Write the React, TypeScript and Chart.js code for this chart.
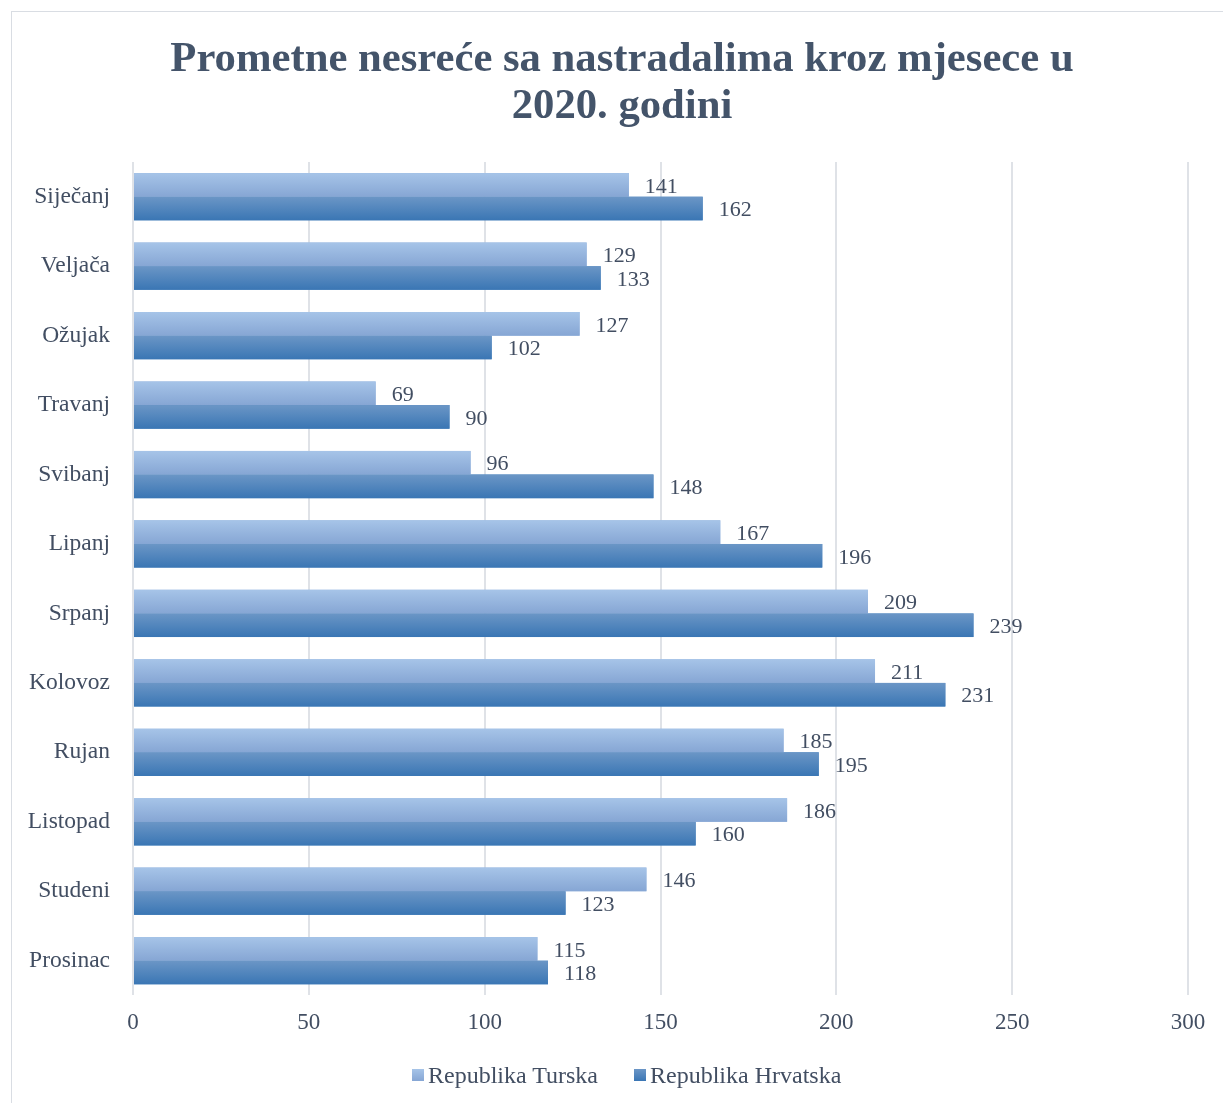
import React, { useEffect, useRef } from "react";
import { Chart, registerables } from "chart.js";

Chart.register(...registerables);

const TITLE_LINES = ["Prometne nesreće sa nastradalima kroz mjesece u", "2020. godini"];
const MONTHS = ["Siječanj", "Veljača", "Ožujak", "Travanj", "Svibanj", "Lipanj", "Srpanj", "Kolovoz", "Rujan", "Listopad", "Studeni", "Prosinac"];
const SERIES_NAMES = ["Republika Turska", "Republika Hrvatska"];
const TURSKA = [141, 129, 127, 69, 96, 167, 209, 211, 185, 186, 146, 115];
const HRVATSKA = [162, 133, 102, 90, 148, 196, 239, 231, 195, 160, 123, 118];
const X_MIN = 0;
const X_MAX = 300;
const X_STEP = 50;

const FONT = "'Liberation Serif', 'Times New Roman', serif";
const TEXT_COLOR = "#424e62";
const GRADS = [
  ["#a6c4e8", "#86a6d4"],
  ["#6b96c6", "#3a76b4"],
];
const SOLID = ["#95b4de", "#4a85bf"];

const barPlugin = {
  id: "gradBarsAndLabels",
  afterDatasetsDraw(chart: any) {
    const ctx = chart.ctx;
    ctx.save();
    chart.data.datasets.forEach((ds: any, di: number) => {
      const meta = chart.getDatasetMeta(di);
      meta.data.forEach((el: any) => {
        const top = el.y - el.height / 2;
        const bottom = el.y + el.height / 2;
        const g = ctx.createLinearGradient(0, top, 0, bottom);
        g.addColorStop(0, GRADS[di][0]);
        g.addColorStop(1, GRADS[di][1]);
        ctx.fillStyle = g;
        const left = Math.min(el.base, el.x);
        ctx.fillRect(left, top, Math.abs(el.x - el.base), el.height);
      });
    });
    ctx.font = `22px ${FONT}`;
    ctx.fillStyle = TEXT_COLOR;
    ctx.textAlign = "left";
    ctx.textBaseline = "middle";
    chart.data.datasets.forEach((ds: any, di: number) => {
      const meta = chart.getDatasetMeta(di);
      meta.data.forEach((el: any, i: number) => {
        ctx.fillText(String(ds.data[i]), el.x + 16, el.y + 2);
      });
    });
    ctx.restore();
  },
};

export default function App() {
  const ref = useRef<HTMLCanvasElement>(null);
  useEffect(() => {
    if (!ref.current) return;
    const chart = new Chart(ref.current, {
      type: "bar",
      data: {
        labels: MONTHS,
        datasets: [
          { label: SERIES_NAMES[0], data: TURSKA, backgroundColor: SOLID[0], borderWidth: 0 },
          { label: SERIES_NAMES[1], data: HRVATSKA, backgroundColor: SOLID[1], borderWidth: 0 },
        ],
      },
      plugins: [barPlugin],
      options: {
        indexAxis: "y",
        animation: false,
        responsive: true,
        maintainAspectRatio: false,
        datasets: { bar: { categoryPercentage: 0.68, barPercentage: 1.0 } },
        layout: { padding: { left: 0, right: 0, top: 0, bottom: 52 } },
        plugins: {
          tooltip: { enabled: false },
          legend: { display: false },
          title: {
            display: true,
            text: TITLE_LINES,
            color: "#44546a",
            font: { family: FONT, size: 42.7, weight: "bold", lineHeight: 47 / 42.7 },
            padding: { top: 24, bottom: 32 },
          },
        },
        scales: {
          x: {
            min: X_MIN,
            max: X_MAX,
            ticks: { stepSize: X_STEP, color: TEXT_COLOR, font: { family: FONT, size: 23 }, padding: 14 },
            grid: { color: "#dfe2e7", lineWidth: 2, drawTicks: false },
            border: { display: false },
          },
          y: {
            ticks: { color: TEXT_COLOR, font: { family: FONT, size: 23.5 }, padding: 23 },
            grid: { display: false, drawTicks: false },
            border: { display: false },
            afterFit(scale: any) {
              scale.width = 121;
            },
          },
          yRightSpace: {
            type: "category",
            labels: MONTHS,
            position: "right",
            ticks: { display: false },
            grid: { display: false, drawTicks: false },
            border: { display: false },
            afterFit(scale: any) {
              scale.width = 44;
            },
          },
        },
      },
    } as any);
    return () => chart.destroy();
  }, []);

  const swatch = (i: number) => ({
    display: "inline-block",
    width: 12,
    height: 12,
    background: `linear-gradient(${GRADS[i][0]}, ${GRADS[i][1]})`,
    marginRight: 4,
    verticalAlign: "middle",
  });
  return (
    <>
      <div style={{ position: "fixed", left: 11, top: 11, width: 1300, height: 1200, border: "1px solid #d9dde3", boxSizing: "border-box" }} />
      <div style={{ position: "fixed", left: 12, top: 12, width: 1220, height: 1091 }}>
        <canvas ref={ref} />
        <div
          style={{
            position: "absolute",
            left: 400,
            top: 1049,
            height: 28,
            lineHeight: "28px",
            whiteSpace: "nowrap",
            fontFamily: FONT,
            fontSize: 24,
            color: TEXT_COLOR,
            display: "flex",
            alignItems: "center",
          }}
        >
          <span style={swatch(0)} />
          <span>{SERIES_NAMES[0]}</span>
          <span style={{ ...swatch(1), marginLeft: 36 }} />
          <span>{SERIES_NAMES[1]}</span>
        </div>
      </div>
    </>
  );
}
